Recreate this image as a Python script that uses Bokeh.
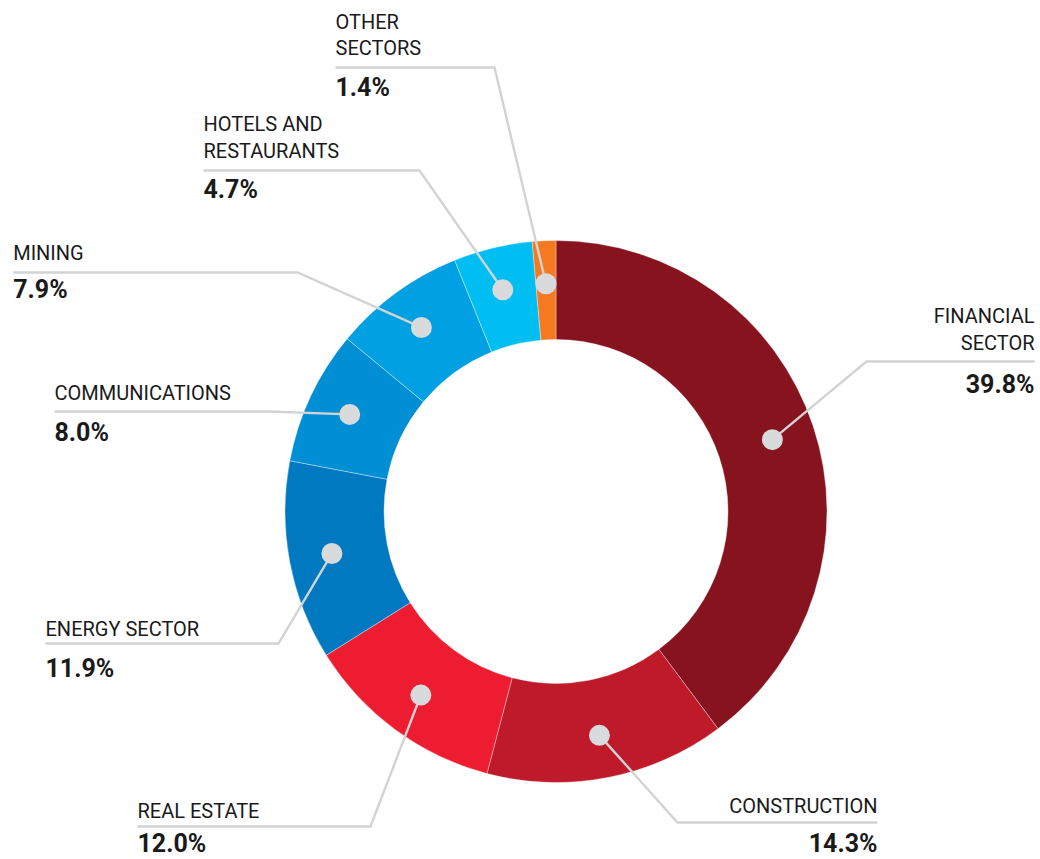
import numpy as np
from bokeh.plotting import figure
from bokeh.models import Range1d, ColumnDataSource
from bokeh.core.properties import value
from bokeh.embed import file_html
from bokeh.resources import INLINE

# ---------------- data ----------------
sectors = ["Financial sector", "Construction", "Real estate", "Energy sector",
           "Communications", "Mining", "Hotels and restaurants", "Other sectors"]
label_lines = [["FINANCIAL", "SECTOR"], ["CONSTRUCTION"], ["REAL ESTATE"],
               ["ENERGY SECTOR"], ["COMMUNICATIONS"], ["MINING"],
               ["HOTELS AND", "RESTAURANTS"], ["OTHER", "SECTORS"]]
shares = [39.8, 14.3, 12.0, 11.9, 8.0, 7.9, 4.7, 1.4]
colors = ["#87131F", "#BE1A2A", "#ED1C30", "#0079C1",
          "#008FD4", "#00A0E2", "#00BEF2", "#F47920"]

# ---------------- layout (screen pixels of the picture) ----------------
W, H = 1040, 859
def sy(y):  # picture pixel y -> data y
    return H - y

TEXT_DY = 8  # baseline correction for text glyphs
CX, CY = 555.5, sy(511)
R_OUT, R_IN, R_DOT = 271, 172, 228

# per label: side, text x, leader y, elbow x, label baselines, percent baseline
lay = [
    ("right", 1034, 361, 866, [323, 350], 392),
    ("right", 877, 822, 677, [813], 851),
    ("left", 137, 826, 370, [818], 851),
    ("left", 45, 643, 278, [636], 676),
    ("left", 54, 411, 268, [400], 440),
    ("left", 12.7, 272, 297, [260], 297),
    ("left", 203, 170, 419, [131, 158], 197),
    ("left", 335, 67, 494, [29, 55], 95),
]

p = figure(width=W, height=H, output_backend="svg", toolbar_location=None,
           x_range=Range1d(0, W), y_range=Range1d(0, H),
           min_border=0, x_axis_location=None, y_axis_location=None,
           outline_line_color=None, background_fill_color="white",
           border_fill_color="white")
p.grid.visible = False

vals = np.array(shares, dtype=float)
frac = vals / vals.sum()
cum_end = np.cumsum(frac)
cum_start = cum_end - frac
start = np.pi / 2 - 2 * np.pi * cum_start
end = np.pi / 2 - 2 * np.pi * cum_end
mid = (start + end) / 2

src = ColumnDataSource(dict(start=start, end=end, color=colors, name=sectors))
p.annular_wedge(x=CX, y=CY, inner_radius=R_IN, outer_radius=R_OUT,
                start_angle="start", end_angle="end", direction="clock",
                fill_color="color", line_color="white", line_width=0.6,
                line_alpha=0.6, source=src)

dot_x = CX + R_DOT * np.cos(mid)
dot_y = CY + R_DOT * np.sin(mid)

xs, ys = [], []
for i, (side, tx, ly, ex, bls, pb) in enumerate(lay):
    xs.append([tx, ex, dot_x[i]])
    ys.append([sy(ly), sy(ly), dot_y[i]])
p.multi_line(xs=xs, ys=ys, line_color="#D2D3D5", line_width=2.4,
             line_join="miter")

p.scatter(x=dot_x, y=dot_y, size=21, fill_color="#D9DADC", line_color=None)

tfont = value("Roboto")
lx, ly_, lt, la = [], [], [], []
px, py, pt, pa = [], [], [], []
for i, (side, tx, ly, ex, bls, pb) in enumerate(lay):
    align = "right" if side == "right" else "left"
    for line, b in zip(label_lines[i], bls):
        lx.append(tx); ly_.append(sy(b) + TEXT_DY); lt.append(line); la.append(align)
    px.append(tx); py.append(sy(pb) + TEXT_DY)
    pt.append(f"{shares[i]:.1f}%"); pa.append(align)

p.text(x=lx, y=ly_, text=lt, text_align=la, text_baseline="alphabetic",
       text_font=tfont, text_font_size="20px", text_color="#1A1A1A")
p.text(x=px, y=py, text=pt, text_align=pa, text_baseline="alphabetic",
       text_font=tfont, text_font_size="25px", text_font_style="bold",
       text_color="#1A1A1A")

open("out.html", "w").write(file_html(p, INLINE))
